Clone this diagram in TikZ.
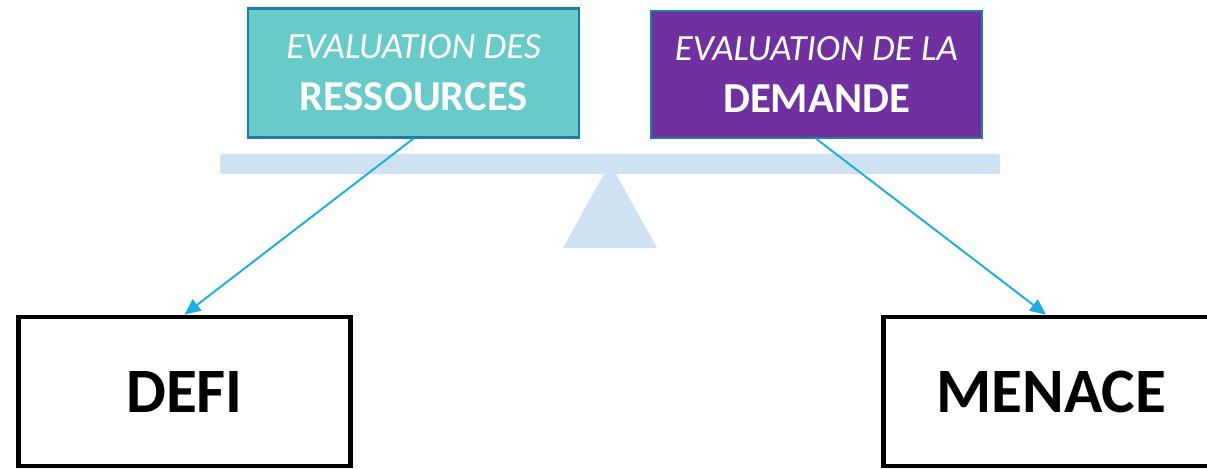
\documentclass[tikz,border=0pt]{standalone}
\usepackage{fontspec}
\setmainfont{Carlito}
\usetikzlibrary{arrows.meta,calc}
\definecolor{resfill}{RGB}{104,203,201}
\definecolor{demfill}{RGB}{112,48,160}
\definecolor{boxline}{RGB}{30,125,165}
\definecolor{beamblue}{RGB}{207,226,243}
\definecolor{arrowblue}{RGB}{29,172,228}

\begin{document}
\begin{tikzpicture}[x=0.02cm,y=-0.02cm,
    evalbox/.style={draw=boxline,line width=1.2pt,text=white,inner sep=0pt,
      minimum width=6.62cm,minimum height=2.58cm,align=center,
      font=\fontsize{21}{29.6}\selectfont},
    outcome/.style={draw=black,line width=2.8pt,inner sep=0pt,
      minimum height=2.98cm,font=\fontsize{36}{40}\selectfont\bfseries},
    link/.style={draw=arrowblue,line width=1.1pt,-{Triangle[length=9pt,width=8pt]}}]
    \useasboundingbox (0,0) rectangle (1207,469);
    \clip (0,0) rectangle (1207,469);
    \begin{scope}
      \fill[beamblue,rounded corners=1pt] (220,154) rectangle (1000,174);
      \fill[beamblue] (610,163) -- (657,248) -- (563,248) -- cycle;
    \end{scope}
    \node[evalbox,fill=resfill] (res) at (413.5,73)
      {\itshape EVALUATION DES\\{\fontsize{24.3}{29.6}\selectfont\bfseries RESSOURCES}};
    \node[evalbox,fill=demfill,minimum height=2.54cm] (dem) at (816.5,74.5)
      {\itshape EVALUATION DE LA\\{\fontsize{24.3}{29.6}\selectfont\bfseries DEMANDE}};
    \foreach \nm/\x/\w/\pad/\txt in {defi/184.5/6.64/0/DEFI,menace/1183.5/12/5.3/MENACE}{
        \node[outcome,minimum width=\w cm] (\nm) at (\x,391.5) {\txt\hspace*{\pad cm}};
     }
    \draw[link] (res.south) -- (defi.north);
    \draw[link] (dem.south) -- ($(menace.north west)!0.2725!(menace.north east)$);
  \end{tikzpicture}
\end{document}
